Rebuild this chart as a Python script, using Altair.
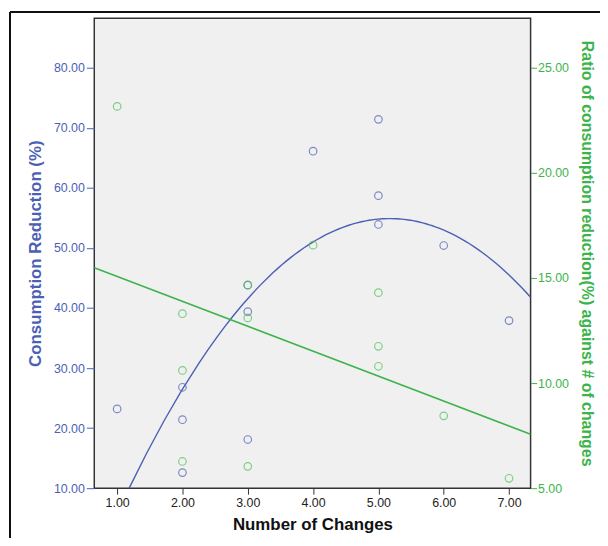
import altair as alt
import pandas as pd

# Data
changes = [1, 2, 2, 2, 3, 3, 3, 4, 5, 5, 5, 6, 7]
reduction = [23.2, 26.8, 21.4, 12.6, 43.8, 39.4, 18.1, 66.1, 71.4, 58.7, 53.9, 50.4, 37.9]
ratio = [23.16, 13.3, 10.6, 6.27, 14.67, 13.1, 6.04, 16.56, 14.3, 11.75, 10.8, 8.44, 5.47]

x_ticks = [1, 2, 3, 4, 5, 6, 7]
left_ticks = [10, 20, 30, 40, 50, 60, 70, 80]
right_ticks = [5, 10, 15, 20, 25]

df = pd.DataFrame({"changes": changes, "reduction": reduction, "ratio": ratio})

BLUE = "#4b5fb4"
GREEN = "#3cb44b"
FONT = "Liberation Sans"
XDOM = [0.65, 7.33]

x_enc = alt.X("changes:Q",
              scale=alt.Scale(domain=XDOM, nice=False, zero=False),
              axis=alt.Axis(values=x_ticks, format=".2f", title="Number of Changes",
                            grid=False, domain=False, tickColor="#333", tickSize=6,
                            labelPadding=2, labelColor="#222", labelFontSize=12.5,
                            titleFontSize=17, titleFontWeight="bold", titleColor="#111",
                            titlePadding=8))

left_scale = alt.Scale(domain=[10, 88.25], nice=False, zero=False)
right_scale = alt.Scale(domain=[5, 27.36], nice=False, zero=False)

left_axis = alt.Axis(values=left_ticks, format=".2f", title="Consumption Reduction (%)",
                     orient="left", grid=False, domain=False, tickColor=BLUE, tickSize=8,
                     labelPadding=2, labelColor=BLUE, labelFontSize=12.5,
                     titleColor=BLUE, titleFontSize=17, titleFontWeight="bold",
                     titlePadding=9)
right_axis = alt.Axis(values=right_ticks, format=".2f",
                      title="Ratio of consumption reduction(%) against # of changes",
                      orient="right", grid=False, domain=False, tickColor=GREEN, tickSize=6,
                      labelPadding=1, labelColor=GREEN, labelFontSize=12.5,
                      titleColor=GREEN, titleFontSize=16, titleFontWeight="bold",
                      titlePadding=10)

base = alt.Chart(df)

blue_pts = base.mark_point(shape="circle", filled=False, size=58, strokeWidth=1.2,
                           color=BLUE).encode(
    x=x_enc, y=alt.Y("reduction:Q", scale=left_scale, axis=left_axis))
blue_fit = base.transform_regression("changes", "reduction", method="poly", order=2,
                                     extent=XDOM).mark_line(
    color=BLUE, strokeWidth=1.4, clip=True).encode(
    x=alt.X("changes:Q"), y=alt.Y("reduction:Q", scale=left_scale))

green_pts = base.mark_point(shape="circle", filled=False, size=58, strokeWidth=1.2,
                            color="#4cc25a").encode(
    x=alt.X("changes:Q"), y=alt.Y("ratio:Q", scale=right_scale, axis=right_axis))
green_fit = base.transform_regression("changes", "ratio", method="linear",
                                      extent=XDOM).mark_line(
    color=GREEN, strokeWidth=1.6, clip=True).encode(
    x=alt.X("changes:Q"), y=alt.Y("ratio:Q", scale=right_scale))

# outer frame lines (top and left)
frame_top = base.mark_rule(color="#111", strokeWidth=1.5, clip=False).encode(
    x=alt.value(-85), x2=alt.value(520), y=alt.value(-6))
frame_left = base.mark_rule(color="#111", strokeWidth=1.5, clip=False).encode(
    x=alt.value(-85), y=alt.value(-6), y2=alt.value(540))

blue_layer = alt.layer(blue_fit, blue_pts)
green_layer = alt.layer(green_fit, green_pts)

chart = alt.layer(blue_layer, green_layer, frame_top, frame_left).resolve_scale(
    y="independent"
).properties(
    width=440, height=474,
    autosize=alt.AutoSizeParams(type="none"),
    padding={"left": 87, "top": 8, "right": 70, "bottom": 48},
    background="white",
).configure(
    font=FONT
).configure_view(
    fill="#f0f0f0", stroke="#333", strokeWidth=1.5
)

chart.save("out.html", embed_options={"renderer": "svg", "actions": False})
